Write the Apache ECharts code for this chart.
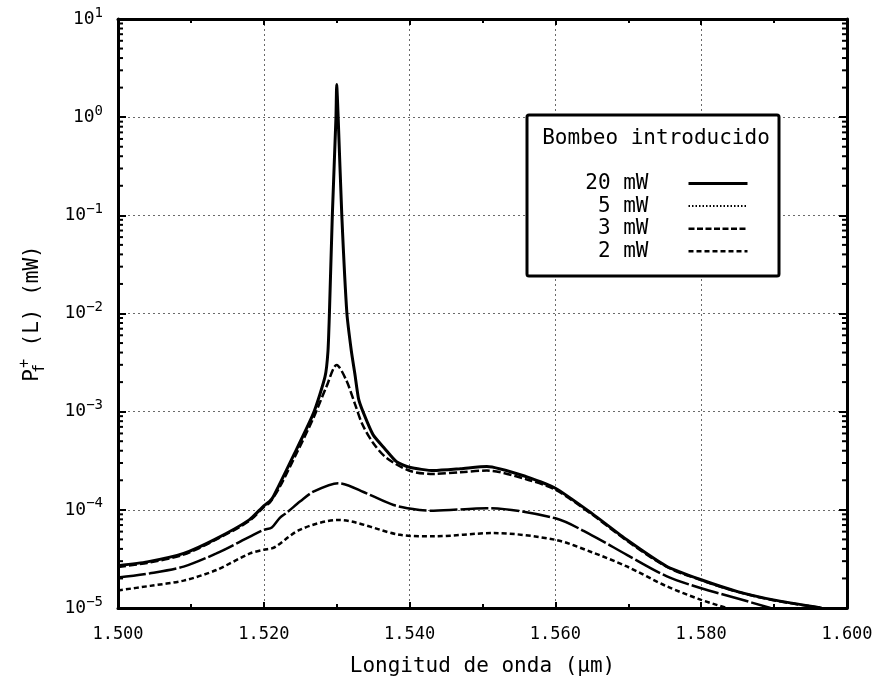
<!DOCTYPE html>
<html><head><meta charset="utf-8">
<script src="https://cdn.jsdelivr.net/npm/echarts/dist/echarts.min.js"></script>
<style>html,body{margin:0;padding:0;background:#fff}#c{width:875px;height:691px}</style>
</head><body><div id="c"></div>
<script>
// ---------- data ----------
const seriesNames = ['20 mW', '5 mW', '3 mW', '2 mW'];
const legendTitle = 'Bombeo introducido';
const xAxisTitle = 'Longitud de onda (\u03bcm)';
const xTickLabels = ['1.500', '1.520', '1.540', '1.560', '1.580', '1.600'];
const yTickExponents = ['\u22125', '\u22124', '\u22123', '\u22122', '\u22121', '0', '1'];

const wl20 = [1.500, 1.504, 1.509, 1.5135, 1.518, 1.520, 1.5208, 1.5213, 1.524, 1.5268, 1.5284, 1.5288,
  1.5290, 1.5294, 1.5299, 1.5300, 1.5302, 1.5307, 1.5314, 1.5320, 1.5325, 1.5330, 1.5337, 1.5350,
  1.5366, 1.5382, 1.540, 1.5433, 1.547, 1.5506, 1.556, 1.560, 1.565, 1.5698, 1.5753, 1.580, 1.585, 1.5899, 1.5965];
const p20 = [2.7e-5, 2.95e-5, 3.6e-5, 5.1e-5, 7.9e-5, 1.1e-4, 1.22e-4, 1.36e-4, 3.48e-4, 9.6e-4, 2.27e-3, 4.1e-3,
  1.0e-2, 0.1, 1.0, 2.15, 1.0, 0.1, 0.01, 4.2e-3, 2.4e-3, 1.35e-3, 9.6e-4, 5.8e-4,
  4.2e-4, 3.1e-4, 2.71e-4, 2.51e-4, 2.62e-4, 2.76e-4, 2.18e-4, 1.66e-4, 9.2e-5, 4.95e-5, 2.65e-5, 1.94e-5, 1.47e-5, 1.21e-5, 1.0e-5];

const wl5 = [1.500, 1.504, 1.509, 1.5135, 1.518, 1.520, 1.5208, 1.5222, 1.5245, 1.5268, 1.5286, 1.5300,
  1.5313, 1.5325, 1.5335, 1.5350, 1.5368, 1.540, 1.5433, 1.547, 1.5506, 1.556, 1.560, 1.565, 1.5698,
  1.5753, 1.580, 1.585, 1.5899, 1.5965];
const p5 = [2.62e-5, 2.88e-5, 3.5e-5, 5.0e-5, 7.7e-5, 1.07e-4, 1.18e-4, 1.72e-4, 3.77e-4, 8.6e-4, 1.8e-3, 2.99e-3,
  2.1e-3, 1.2e-3, 7.5e-4, 4.8e-4, 3.4e-4, 2.5e-4, 2.32e-4, 2.42e-4, 2.51e-4, 2.05e-4, 1.6e-4, 9.0e-5, 4.85e-5,
  2.62e-5, 1.92e-5, 1.46e-5, 1.2e-5, 1.0e-5];

const wl3 = [1.500, 1.5044, 1.509, 1.5135, 1.5181, 1.520, 1.5211, 1.5222, 1.5231, 1.525, 1.5268, 1.5302,
  1.5341, 1.5378, 1.5414, 1.5433, 1.5506, 1.560, 1.565, 1.5698, 1.5753, 1.580, 1.585, 1.5895];
const p3 = [2.05e-5, 2.26e-5, 2.64e-5, 3.6e-5, 5.33e-5, 6.25e-5, 6.6e-5, 8.3e-5, 9.3e-5, 1.22e-4, 1.53e-4, 1.87e-4,
  1.47e-4, 1.12e-4, 9.96e-5, 9.8e-5, 1.04e-4, 8.2e-5, 5.5e-5, 3.48e-5, 2.1e-5, 1.59e-5, 1.25e-5, 1.0e-5];

const wl2 = [1.500, 1.5044, 1.509, 1.5135, 1.5181, 1.520, 1.5211, 1.5218, 1.525, 1.5302, 1.5387, 1.5433,
  1.5515, 1.560, 1.565, 1.5698, 1.5753, 1.580, 1.5835];
const p2 = [1.51e-5, 1.68e-5, 1.9e-5, 2.44e-5, 3.6e-5, 3.92e-5, 4.05e-5, 4.3e-5, 6.3e-5, 7.9e-5, 5.56e-5, 5.37e-5,
  5.8e-5, 4.95e-5, 3.7e-5, 2.65e-5, 1.66e-5, 1.21e-5, 1.0e-5];

// ---------- build ----------
const FONT = 'DejaVu Sans Mono';
const zip = (a, b) => a.map((v, i) => [v, b[i]]);
const curves = [zip(wl20, p20), zip(wl5, p5), zip(wl3, p3), zip(wl2, p2)];
const seriesLine = [
  { width: 3, type: 'solid', smooth: 0.2 },
  { width: 2.5, type: [8, 3], smooth: 0.3 },
  { width: 2.5, type: [28, 3], smooth: 0.3 },
  { width: 2.5, type: [5, 3], smooth: 0.3 }
];
const legendLine = [
  { width: 3, type: 'solid' },
  { width: 2, type: [1.5, 2] },
  { width: 2.5, type: [6, 2.5] },
  { width: 2.5, type: [5, 3] }
];

// minor log ticks (2..9 per decade)
const minorTicks = [];
for (let e = -5; e < 1; e++) for (let m = 2; m <= 9; m++) minorTicks.push([1.5, m * Math.pow(10, e)]);

const chart = echarts.init(document.getElementById('c'), null, { renderer: 'canvas' });
const axisLineStyle = { color: '#000', width: 3 };
const gridLine = { show: true, lineStyle: { color: '#6a6a6a', type: [2, 3], width: 1 } };

const option = {
  animation: false,
  backgroundColor: '#fff',
  grid: { left: 118, right: 28, top: 19, bottom: 83, containLabel: false, outerBoundsMode: 'none' },
  xAxis: [
    {
      type: 'value', min: 1.5, max: 1.6, interval: 0.02, position: 'bottom',
      axisLine: { onZero: false, lineStyle: axisLineStyle },
      axisTick: { inside: true, length: 6, lineStyle: { color: '#000', width: 2 } },
      minorTick: { show: true, splitNumber: 2, length: 4, lineStyle: { color: '#000', width: 2 } },
      splitLine: gridLine,
      axisLabel: {
        margin: 18, color: '#000', fontFamily: FONT, fontSize: 17,
        formatter: v => xTickLabels[Math.round((v - 1.5) / 0.02)]
      },
      name: xAxisTitle, nameLocation: 'middle', nameGap: 48,
      nameTextStyle: { color: '#000', fontFamily: FONT, fontSize: 21 }
    },
    {
      type: 'value', min: 1.5, max: 1.6, interval: 0.02, position: 'top',
      axisLine: { onZero: false, lineStyle: axisLineStyle },
      axisTick: { inside: true, length: 6, lineStyle: { color: '#000', width: 2 } },
      minorTick: { show: true, splitNumber: 2, length: 4, lineStyle: { color: '#000', width: 2 } },
      splitLine: { show: false }, axisLabel: { show: false }
    }
  ],
  yAxis: [
    {
      type: 'log', logBase: 10, min: 1e-5, max: 10, splitNumber: 6, position: 'left',
      axisLine: { onZero: false, lineStyle: axisLineStyle },
      axisTick: { inside: true, length: 8, lineStyle: { color: '#000', width: 2 } },
      splitLine: gridLine,
      axisLabel: {
        margin: 15, color: '#000', fontFamily: FONT, fontSize: 18,
        formatter: v => '{b|10}{s|' + yTickExponents[Math.round(Math.log10(v)) + 5] + '}',
        rich: {
          b: { fontFamily: FONT, fontSize: 18, color: '#000', lineHeight: 26 },
          s: { fontFamily: FONT, fontSize: 14, color: '#000', lineHeight: 14, verticalAlign: 'top' }
        }
      },
      name: '{p|P}{sub|f}{sup|+}{p| (L) (mW)}', nameLocation: 'middle', nameGap: 70, nameRotate: 90,
      nameTextStyle: {
        color: '#000', fontFamily: FONT, fontSize: 21,
        rich: {
          p: { fontFamily: FONT, fontSize: 21, color: '#000', lineHeight: 30 },
          sub: { fontFamily: FONT, fontSize: 15, color: '#000', lineHeight: 15, verticalAlign: 'bottom', width: 1 },
          sup: { fontFamily: FONT, fontSize: 15, color: '#000', lineHeight: 15, verticalAlign: 'top' }
        }
      }
    },
    {
      type: 'log', logBase: 10, min: 1e-5, max: 10, splitNumber: 6, position: 'right',
      axisLine: { onZero: false, lineStyle: axisLineStyle },
      axisTick: { inside: true, length: 8, lineStyle: { color: '#000', width: 2 } },
      splitLine: { show: false }, axisLabel: { show: false }
    }
  ],
  legend: {
    orient: 'vertical', right: 126, top: 173, padding: 0, align: 'right',
    itemWidth: 59, itemHeight: 14, itemGap: 1.6, selectedMode: false, z: 20,
    itemStyle: { opacity: 0 },
    textStyle: { color: '#000', fontFamily: FONT, fontSize: 21, lineHeight: 14, padding: [0, 35, 0, 0] },
    data: seriesNames.map((n, i) => ({ name: n, lineStyle: { color: '#000', width: legendLine[i].width, type: legendLine[i].type } }))
  },
  graphic: [
    {
      type: 'rect', z: 10, shape: { x: 527, y: 115, width: 252, height: 161, r: 2 },
      style: { fill: '#fff', stroke: '#000', lineWidth: 3 }
    },
    {
      type: 'text', z: 11, x: 656, y: 139,
      style: { text: legendTitle, fill: '#000', fontFamily: FONT, fontSize: 21, align: 'center', verticalAlign: 'middle' }
    }
  ],
  series: seriesNames.map((n, i) => ({
    name: n, type: 'line', data: curves[i], symbol: 'none', showSymbol: false, z: 3 + (3 - i),
    xAxisIndex: 0, yAxisIndex: 0, smooth: seriesLine[i].smooth,
    lineStyle: { color: '#000', width: seriesLine[i].width, type: seriesLine[i].type },
    itemStyle: { color: '#000' }
  })).concat([{
    name: 'minorTicks', type: 'custom', xAxisIndex: 0, yAxisIndex: 0, silent: true, z: 2,
    data: minorTicks, encode: { x: 0, y: 1 },
    renderItem: (params, api) => {
      const v = api.value(1);
      const l = api.coord([1.5, v]);
      const r = api.coord([1.6, v]);
      return {
        type: 'group', children: [
          { type: 'line', shape: { x1: l[0], y1: l[1], x2: l[0] + 5, y2: l[1] }, style: { stroke: '#000', lineWidth: 2 } },
          { type: 'line', shape: { x1: r[0], y1: r[1], x2: r[0] - 5, y2: r[1] }, style: { stroke: '#000', lineWidth: 2 } }
        ]
      };
    }
  }])
};
chart.setOption(option);
</script>
</body></html>
